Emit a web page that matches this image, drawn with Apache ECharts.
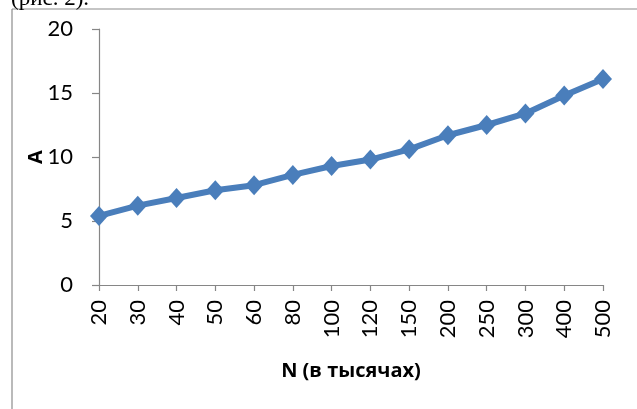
<!DOCTYPE html>
<html>
<head>
<meta charset="utf-8">
<script src="https://cdn.jsdelivr.net/npm/echarts@6/dist/echarts.min.js"></script>
<style>
  html, body { margin: 0; padding: 0; background: #fff; }
  #chart { width: 637px; height: 409px; }
</style>
</head>
<body>
<div id="chart"></div>
<script>
// N values (thousands) along the horizontal axis
const categories = ['20', '30', '40', '50', '60', '80', '100', '120', '150', '200', '250', '300', '400', '500'];
// A for each N
const valuesA = [5.4, 6.2, 6.8, 7.4, 7.8, 8.6, 9.3, 9.8, 10.6, 11.7, 12.5, 13.4, 14.8, 16.1];
// vertical axis range
const yMin = 0, yMax = 20, yStep = 5;

const axisGray = '#868686';
const lineBlue = '#4a7ebb';
const labelFont = 'Lato, "Open Sans", sans-serif';
const nameFont = '"Open Sans", "Noto Sans", sans-serif';

const chart = echarts.init(document.getElementById('chart'), null, { renderer: 'canvas' });

chart.setOption({
  animation: false,
  backgroundColor: '#fff',
  grid: { left: 99, top: 29, width: 504, height: 256, containLabel: false },
  graphic: [
    // frame around the chart area (top and left edges)
    { type: 'line', shape: { x1: 12, y1: 9, x2: 637, y2: 9 }, style: { stroke: '#8c8c8c', lineWidth: 1.2 } },
    { type: 'line', shape: { x1: 12, y1: 9, x2: 12, y2: 409 }, style: { stroke: '#8c8c8c', lineWidth: 1.2 } },
    // caption line from the text above the frame
    { type: 'text', x: 11, y: 10, style: { text: '(рис. 2).', font: '23px "Liberation Serif", serif', fill: '#000', verticalAlign: 'bottom' } }
  ],
  xAxis: {
    type: 'category',
    data: categories,
    boundaryGap: false,
    name: 'N (в тысячах)',
    nameLocation: 'middle',
    nameGap: 76,
    nameTextStyle: { fontFamily: nameFont, fontWeight: 'bold', fontSize: 20, color: '#000' },
    axisLine: { lineStyle: { color: axisGray, width: 1.2 } },
    axisTick: { show: true, alignWithLabel: true, length: 6, lineStyle: { color: axisGray, width: 1.2 } },
    axisLabel: { rotate: 90, interval: 0, margin: 15, fontFamily: labelFont, fontSize: 22, color: '#000' },
    splitLine: { show: false }
  },
  yAxis: {
    type: 'value',
    min: yMin,
    max: yMax,
    interval: yStep,
    name: 'A',
    nameLocation: 'middle',
    nameGap: 53,
    nameMoveOverlap: false,
    nameRotate: 90,
    nameTextStyle: { fontFamily: nameFont, fontWeight: 'bold', fontSize: 20, color: '#000' },
    axisLine: { show: true, lineStyle: { color: axisGray, width: 1.2 } },
    axisTick: { show: true, length: 7, lineStyle: { color: axisGray, width: 1.2 } },
    axisLabel: { margin: 26, fontFamily: labelFont, fontSize: 22, color: '#000' },
    splitLine: { show: false }
  },
  series: [{
    type: 'line',
    data: valuesA,
    symbol: 'diamond',
    symbolSize: [18, 20],
    showAllSymbol: true,
    lineStyle: { color: lineBlue, width: 6 },
    itemStyle: { color: lineBlue },
    z: 3
  }]
});
</script>
</body>
</html>
